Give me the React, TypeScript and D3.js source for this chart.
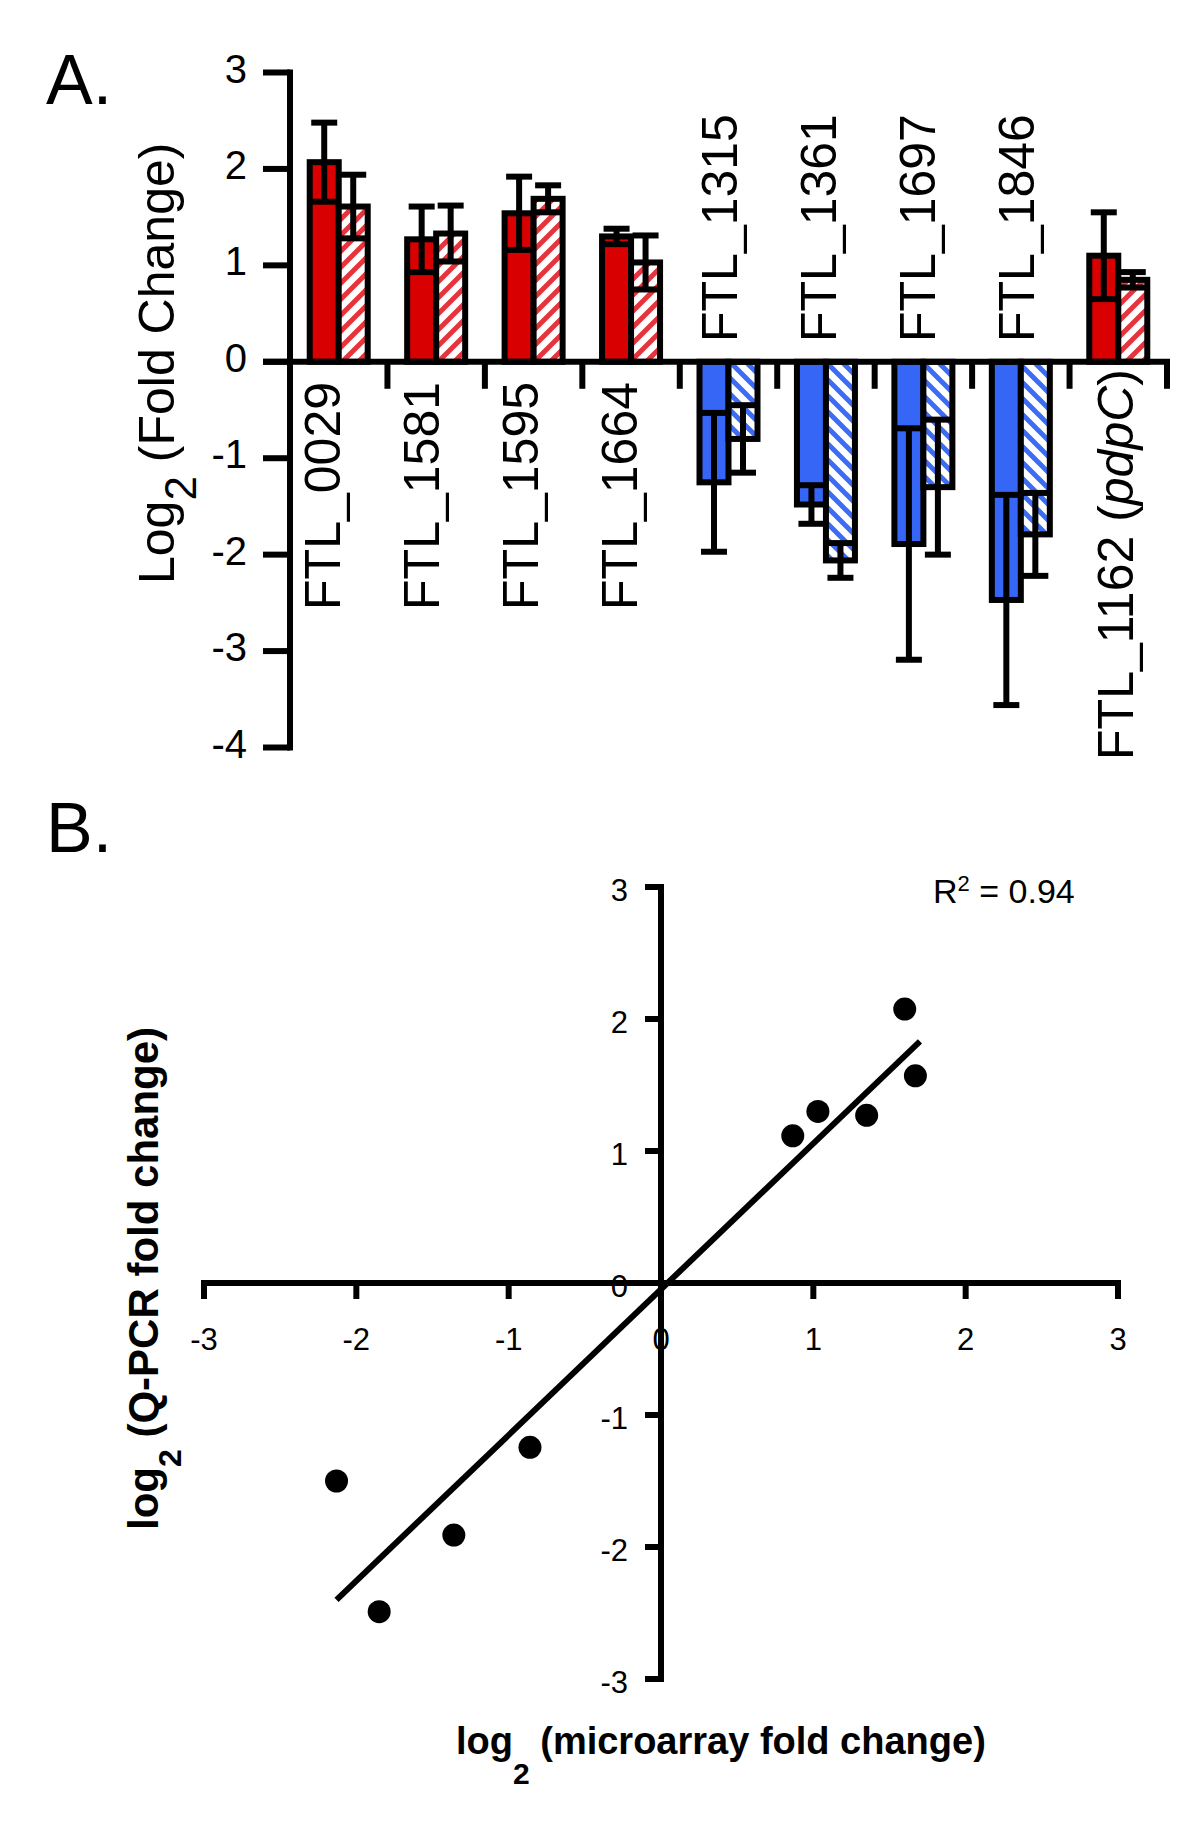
import React from "react";
import * as d3 from "d3";

// ---------- Panel A data ----------
const categories = ["FTL_0029", "FTL_1581", "FTL_1595", "FTL_1664", "FTL_1315", "FTL_1361", "FTL_1697", "FTL_1846", "FTL_1162"];
const geneNames = ["", "", "", "", "", "", "", "", "pdpC"];
const qpcrMean = [2.07, 1.27, 1.54, 1.30, -1.25, -1.48, -1.89, -2.47, 1.10];
const qpcrErr = [0.41, 0.34, 0.38, 0.08, 0.72, 0.20, 1.20, 1.09, 0.45];
const arrayMean = [1.61, 1.33, 1.69, 1.03, -0.80, -2.06, -1.30, -1.79, 0.85];
const arrayErr = [0.33, 0.29, 0.14, 0.28, 0.35, 0.18, 0.70, 0.43, 0.08];
const yTicksA = [-4, -3, -2, -1, 0, 1, 2, 3];

// ---------- Panel B data ----------
const microarrayX = [-2.13, -1.85, -1.36, -0.86, 0.865, 1.03, 1.35, 1.60, 1.67];
const qpcrY = [-1.50, -2.49, -1.91, -1.245, 1.115, 1.30, 1.27, 2.075, 1.57];
const fitX = [-2.13, 1.70];
const fitY = [-2.40, 1.83];
const ticksB = [-3, -2, -1, 0, 1, 2, 3];
const rSquaredText = "0.94";

const FONT = "'Liberation Sans', Arial, Helvetica, sans-serif";
const RED = "#d80000";
const RED_HATCH = "#e5343c";
const BLUE = "#3666f6";
const BLUE_HATCH = "#3a6cf6";
const SW = 6;

export default function App() {
  // Panel A scales
  const xA = d3.scaleBand<string>().domain(categories).range([290, 1167]);
  const yA = d3.scaleLinear().domain([-4, 3]).range([747.5, 72.5]);
  const labelX = d3.scalePoint<string>().domain(categories).range([340, 1133]);
  const bw = xA.bandwidth();
  const barW = 29;
  const capW = 26;
  const y0 = yA(0);

  // Panel B scales
  const xB = d3.scaleLinear().domain([-3, 3]).range([204, 1118]);
  const yB = d3.scaleLinear().domain([-3, 3]).range([1679, 887]);
  const fitLine = d3
    .line<number>()
    .x((d, i) => xB(fitX[i]))
    .y((d, i) => yB(fitY[i]));

  const errorBar = (cx: number, v: number, e: number, key: string) => {
    const yt = yA(v + e);
    const yb = yA(v - e);
    return (
      <g key={key} stroke="#000" strokeWidth={SW}>
        <line x1={cx} x2={cx} y1={yt} y2={yb} />
        <line x1={cx - capW / 2} x2={cx + capW / 2} y1={yt} y2={yt} />
        <line x1={cx - capW / 2} x2={cx + capW / 2} y1={yb} y2={yb} />
      </g>
    );
  };

  return (
    <svg
      width={1200}
      height={1830}
      viewBox="0 0 1200 1830"
      style={{ position: "absolute", left: 0, top: 0, display: "block", background: "#fff" }}
      fontFamily={FONT}
    >
      <defs>
        <pattern id="hatchRed" patternUnits="userSpaceOnUse" width={16} height={16}>
          <rect width={16} height={16} fill="#fff" />
          <path d="M-4,4 L4,-4 M0,16 L16,0 M12,20 L20,12" stroke={RED_HATCH} strokeWidth={5} />
        </pattern>
        <pattern id="hatchBlue" patternUnits="userSpaceOnUse" width={16} height={16}>
          <rect width={16} height={16} fill="#fff" />
          <path d="M-4,12 L4,20 M0,0 L16,16 M12,-4 L20,4" stroke={BLUE_HATCH} strokeWidth={5} />
        </pattern>
      </defs>
      <rect x={0} y={0} width={1200} height={1830} fill="#fff" />

      {/* ================= Panel A ================= */}
      <text x={46} y={104} fontSize={70} fill="#000">A.</text>

      {/* bars */}
      {categories.map((c, i) => {
        const cx = (xA(c) as number) + bw / 2;
        const pos = qpcrMean[i] >= 0;
        const ys = yA(qpcrMean[i]);
        const yh = yA(arrayMean[i]);
        return (
          <g key={c}>
            <rect
              x={cx - barW}
              y={Math.min(ys, y0)}
              width={barW}
              height={Math.abs(ys - y0)}
              fill={pos ? RED : BLUE}
              stroke="#000"
              strokeWidth={SW}
            />
            <rect
              x={cx}
              y={Math.min(yh, y0)}
              width={barW}
              height={Math.abs(yh - y0)}
              fill={pos ? "url(#hatchRed)" : "url(#hatchBlue)"}
              stroke="#000"
              strokeWidth={SW}
            />
            {errorBar(cx - barW / 2, qpcrMean[i], qpcrErr[i], "es" + c)}
            {errorBar(cx + barW / 2, arrayMean[i], arrayErr[i], "eh" + c)}
          </g>
        );
      })}

      {/* axes */}
      <g stroke="#000" strokeWidth={SW}>
        <line x1={290} x2={290} y1={yA(3) - 3} y2={yA(-4) + 3} />
        <line x1={263} x2={1170} y1={y0} y2={y0} />
        {yTicksA.map((t) => (
          <line key={"yt" + t} x1={263} x2={290} y1={yA(t)} y2={yA(t)} />
        ))}
        {categories.map((c) => {
          const xe = (xA(c) as number) + bw;
          return <line key={"xt" + c} x1={xe} x2={xe} y1={y0} y2={y0 + 27} />;
        })}
      </g>

      {/* y tick labels */}
      {yTicksA.map((t) => (
        <text key={"yl" + t} x={247} y={yA(t) + 10} fontSize={40} textAnchor="end" fill="#000">
          {t}
        </text>
      ))}

      {/* category labels */}
      {categories.map((c, i) => {
        const lx = labelX(c) as number;
        const pos = qpcrMean[i] >= 0;
        if (pos) {
          const ly = geneNames[i] ? 369 : 382;
          return (
            <text
              key={"cl" + c}
              transform={`translate(${lx},${ly}) rotate(-90)`}
              textAnchor="end"
              fontSize={50}
              fill="#000"
            >
              {c}
              {geneNames[i] ? (
                <>
                  {" ("}
                  <tspan fontStyle="italic">{geneNames[i]}</tspan>
                  {")"}
                </>
              ) : null}
            </text>
          );
        }
        return (
          <text
            key={"cl" + c}
            transform={`translate(${lx},${342}) rotate(-90)`}
            textAnchor="start"
            fontSize={50}
            fill="#000"
          >
            {c}
          </text>
        );
      })}

      {/* y axis title */}
      <text transform="translate(174,584) rotate(-90)" fontSize={50} fill="#000">
        Log
        <tspan fontSize={44} dy={22}>2</tspan>
        <tspan dy={-22}> (Fold Change)</tspan>
      </text>

      {/* ================= Panel B ================= */}
      <text x={46} y={852} fontSize={70} fill="#000">B.</text>

      {/* tick labels */}
      {ticksB.map((t) => (
        <text key={"bx" + t} x={xB(t)} y={1350} fontSize={31} textAnchor="middle" fill="#000">
          {t}
        </text>
      ))}
      {ticksB.map((t) => (
        <text key={"by" + t} x={628} y={yB(t) + 14} fontSize={31} textAnchor="end" fill="#000">
          {t}
        </text>
      ))}

      {/* axes */}
      <g stroke="#000" strokeWidth={SW}>
        <line x1={xB(-3)} x2={xB(3)} y1={yB(0)} y2={yB(0)} strokeLinecap="square" />
        <line x1={xB(0)} x2={xB(0)} y1={yB(3)} y2={yB(-3)} strokeLinecap="square" />
        {ticksB.map((t) => (
          <line key={"bxt" + t} x1={xB(t)} x2={xB(t)} y1={yB(0)} y2={yB(0) + 16} />
        ))}
        {ticksB.map((t) => (
          <line key={"byt" + t} x1={xB(0) - 16} x2={xB(0)} y1={yB(t)} y2={yB(t)} />
        ))}
      </g>

      {/* regression line */}
      <path d={fitLine(fitX) || ""} stroke="#000" strokeWidth={6} fill="none" />

      {/* points */}
      {microarrayX.map((x, i) => (
        <circle key={"pt" + i} cx={xB(x)} cy={yB(qpcrY[i])} r={11.5} fill="#000" />
      ))}

      {/* R squared */}
      <text x={933} y={903} fontSize={34} fill="#000">
        R<tspan fontSize={22} dy={-12}>2</tspan>
        <tspan dy={12}>{" = " + rSquaredText}</tspan>
      </text>

      {/* axis titles */}
      <text x={456} y={1754} fontSize={38} fontWeight="bold" fill="#000">
        log<tspan fontSize={30} dy={30}>2</tspan>
        <tspan dy={-30}> (microarray fold change)</tspan>
      </text>
      <text transform="translate(158,1530) rotate(-90)" fontSize={42} fontWeight="bold" fill="#000">
        log<tspan fontSize={32} dy={23}>2</tspan>
        <tspan dy={-23}> (Q-PCR fold change)</tspan>
      </text>
    </svg>
  );
}
